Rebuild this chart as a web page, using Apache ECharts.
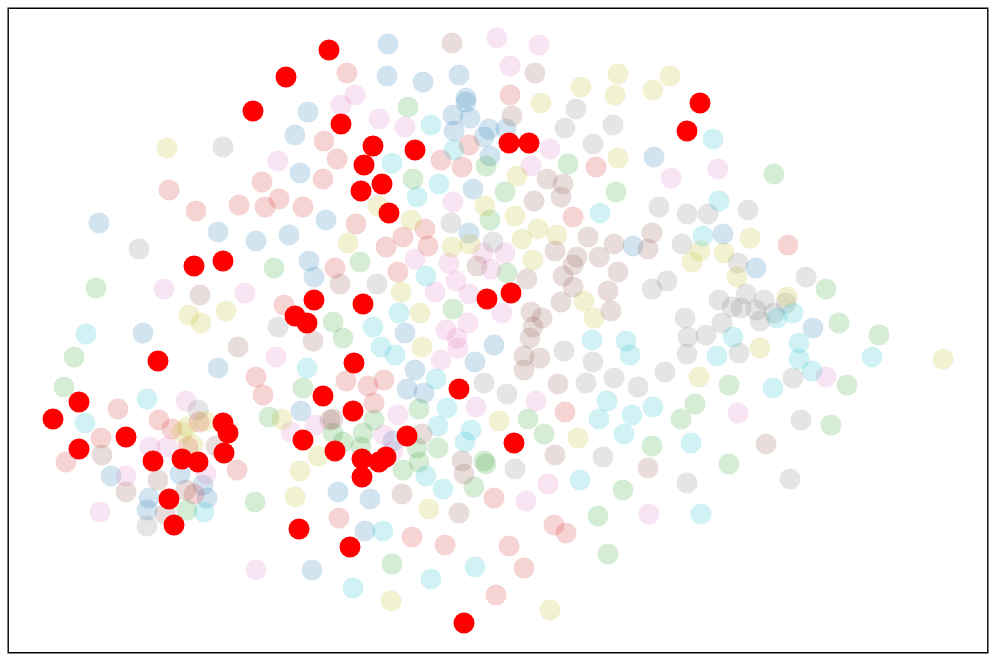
<!DOCTYPE html>
<html lang="en">
<head>
  <meta charset="UTF-8">
  <title>Scatter</title>
  <style>
    html, body { margin: 0; padding: 0; background: #fff; }
    #chart { width: 996px; height: 661px; }
  </style>
</head>
<body>
  <div id="chart"></div>
  <script src="https://cdn.jsdelivr.net/npm/echarts@6/dist/echarts.min.js"></script>
  <script>
    // values, y counted downwards
    const blue = [[308,112],[295,135],[300,173],[99,223],[218,232],[256,241],[289,235],[326,220],[309,261],[314,277],[143,333],
      [388,44],[387,76],[423,82],[459,75],[466,98],[466,102],[453,115],[470,118],[454,131],[489,129],[484,137],[506,129],[490,156],
      [473,189],[654,157],[469,233],[633,246],[405,333],[723,234],[756,268],[813,328],[415,370],[407,389],[424,393],[494,345],
      [475,362],[338,492],[370,499],[365,531],[393,441],[218,368],[301,411],[111,476],[180,474],[203,485],[207,498],[149,498],[147,510],[312,570]]
    const salmon = [[324,141],[337,159],[323,179],[262,182],[169,190],[196,211],[239,205],[265,207],[279,199],[303,207],[335,268],[284,305],
      [347,73],[510,95],[469,145],[441,160],[462,167],[596,167],[573,217],[356,224],[425,229],[403,237],[386,247],[428,246],[398,272],
      [788,245],[346,381],[368,386],[384,380],[374,403],[494,498],[339,518],[412,537],[445,545],[509,546],[524,568],[496,595],[554,525],
      [566,533],[565,412],[256,377],[263,395],[118,409],[159,420],[172,429],[199,422],[101,438],[66,462],[237,470],[194,494],[188,447]]
    const green = [[274,268],[96,288],[333,322],[408,107],[486,166],[568,164],[413,179],[505,192],[616,192],[490,220],[360,262],[507,273],[453,309],
      [774,174],[826,289],[839,323],[879,335],[729,385],[847,385],[695,404],[681,419],[831,425],[729,464],[419,409],[374,420],[363,433],
      [343,442],[361,447],[417,448],[438,448],[419,462],[403,470],[484,461],[486,464],[474,487],[528,419],[544,434],[623,490],[598,516],
      [608,554],[392,564],[652,446],[343,338],[333,433],[74,357],[64,387],[303,388],[269,417],[187,510],[255,502]]
    const pink = [[278,161],[164,289],[245,293],[497,38],[539,45],[510,66],[355,95],[341,105],[379,119],[405,127],[550,149],[531,166],[453,202],
      [505,253],[483,253],[449,263],[415,259],[491,269],[456,281],[435,292],[469,294],[502,313],[468,323],[446,330],[718,169],[671,178],
      [826,377],[738,413],[457,338],[458,348],[441,360],[476,407],[536,401],[398,415],[384,435],[393,451],[548,484],[526,501],[649,514],
      [276,357],[186,401],[150,447],[167,447],[126,476],[206,474],[100,512],[256,570],[291,432],[315,425]]
    const gray = [[223,147],[139,249],[278,327],[576,109],[565,128],[613,125],[593,144],[659,207],[451,223],[493,242],[377,284],[652,289],
      [687,214],[708,214],[748,210],[682,244],[738,263],[806,277],[667,281],[719,300],[746,294],[732,307],[741,308],[756,310],[764,300],
      [760,321],[774,313],[685,318],[722,323],[786,303],[688,337],[706,335],[739,353],[687,354],[665,372],[793,378],[801,420],[687,483],
      [790,479],[564,351],[593,362],[586,383],[614,378],[638,387],[484,383],[507,394],[515,469],[603,457],[198,410],[147,526]]
    const olive = [[167,148],[189,315],[201,323],[226,311],[541,103],[581,87],[615,95],[618,74],[653,90],[618,158],[517,176],[485,206],[378,206],
      [411,220],[515,216],[538,229],[557,235],[522,239],[452,247],[470,244],[348,243],[533,260],[584,301],[594,318],[401,292],[420,313],
      [670,76],[750,238],[700,251],[692,262],[724,253],[737,277],[787,297],[760,348],[699,377],[943,359],[422,347],[499,421],[578,438],
      [429,509],[391,601],[550,610],[282,419],[187,427],[182,432],[205,421],[193,445],[318,456],[300,471],[295,497]]
    const cyan = [[86,334],[431,125],[454,150],[392,163],[439,184],[417,197],[600,213],[426,276],[399,313],[373,327],[713,139],[719,201],[703,236],
      [793,313],[777,318],[733,337],[717,356],[799,343],[799,359],[812,371],[872,357],[773,388],[691,443],[701,514],[381,347],[395,355],
      [436,379],[447,408],[438,426],[471,430],[465,442],[426,476],[443,489],[383,531],[592,340],[626,341],[630,355],[607,401],[653,407],
      [632,415],[599,419],[624,434],[580,480],[475,567],[431,579],[353,588],[85,423],[147,399],[307,368],[204,512]]
    const brown = [[200,295],[452,43],[535,73],[512,116],[547,179],[563,184],[561,197],[534,201],[652,233],[648,249],[614,244],[588,237],[599,257],
      [577,257],[573,265],[563,276],[573,287],[555,251],[618,272],[608,291],[611,311],[561,302],[527,279],[477,266],[340,284],[531,312],
      [542,318],[533,327],[766,444],[530,338],[524,356],[540,358],[524,370],[558,384],[462,461],[464,474],[402,494],[459,513],[555,455],
      [422,434],[333,419],[648,468],[238,347],[313,341],[102,455],[216,446],[158,480],[126,492],[186,490],[165,514],[330,420]]
    const highlighted = [[329,50],[286,77],[253,111],[194,266],[223,261],[314,300],[295,316],[307,323],[341,124],[373,146],[364,165],[382,184],
      [361,191],[389,213],[415,150],[509,143],[529,143],[363,304],[487,299],[511,293],[700,103],[687,131],[354,363],[459,389],[353,411],
      [407,436],[335,451],[514,443],[362,459],[379,462],[386,457],[362,477],[350,547],[323,396],[464,623],[158,361],[79,402],[53,419],
      [223,423],[228,433],[126,437],[79,449],[224,453],[153,461],[182,459],[198,462],[303,440],[169,499],[174,525],[299,529]]

    const groups = [
      [blue, '#1f77b4'], [salmon, '#d62728'], [green, '#2ca02c'], [pink, '#e377c2'],
      [gray, '#7f7f7f'], [olive, '#bcbd22'], [cyan, '#17becf'], [brown, '#8c564b']
    ]

    const series = groups.map(g => {
      return {
        type: 'scatter',
        data: g[0],
        symbolSize: 21,
        itemStyle: { color: g[1], opacity: 0.2 }
      }
    })
    series.push({
      type: 'scatter',
      data: highlighted,
      symbolSize: 21,
      z: 5,
      itemStyle: { color: '#ff0000', opacity: 1 }
    })

    const chart = echarts.init(document.getElementById('chart'), null, { renderer: 'canvas' })
    chart.setOption({
      animation: false,
      grid: { show: true, left: 8.2, top: 8.2, width: 979.6, height: 644.6, borderColor: '#000', borderWidth: 1.4, backgroundColor: '#fff' },
      xAxis: { type: 'value', min: 8.2, max: 987.8, show: false },
      yAxis: { type: 'value', min: 8.2, max: 652.8, inverse: true, show: false },
      series: series
    })
  </script>
</body>
</html>
